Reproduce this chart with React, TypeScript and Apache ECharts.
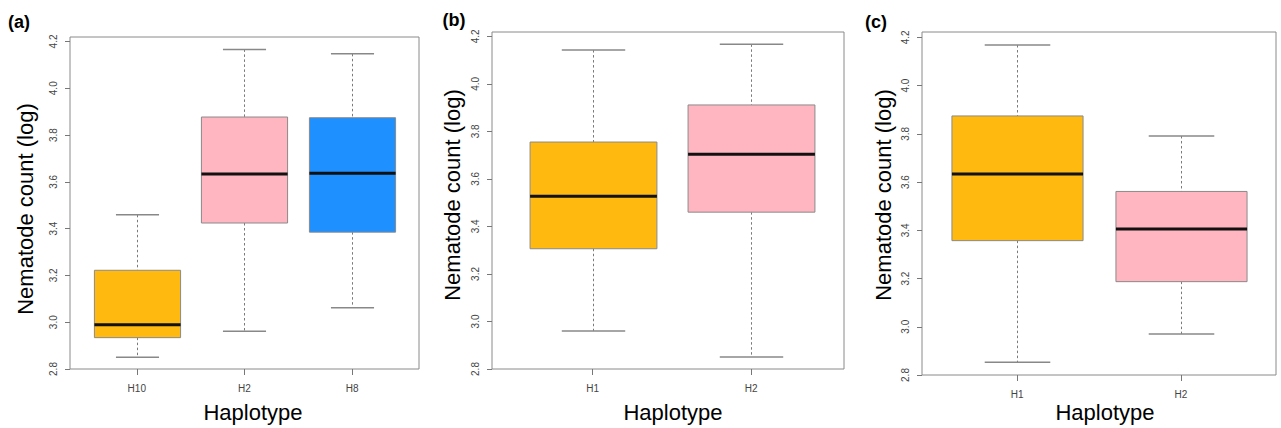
import React, { useEffect, useRef } from "react";
import * as echarts from "echarts";

// ---- Data ----
const yTicks = [2.8, 3.0, 3.2, 3.4, 3.6, 3.8, 4.0, 4.2];

const catsA = ["H10", "H2", "H8"];
// [lower whisker, Q1, median, Q3, upper whisker]
const valuesA = [
  [2.85, 2.934, 2.989, 3.222, 3.459],
  [2.961, 3.424, 3.633, 3.877, 4.166],
  [3.062, 3.385, 3.637, 3.874, 4.147],
];

const catsB = ["H1", "H2"];
const valuesB = [
  [2.96, 3.306, 3.527, 3.755, 4.142],
  [2.85, 3.46, 3.704, 3.911, 4.166],
];

const catsC = ["H1", "H2"];
const valuesC = [
  [2.853, 3.357, 3.633, 3.874, 4.168],
  [2.97, 3.187, 3.405, 3.561, 3.791],
];

const panelLabels = ["(a)", "(b)", "(c)"];
const yTitle = "Nematode count (log)";
const xTitle = "Haplotype";

// ---- Styles / layout ----
const ORANGE = "#FFB90F";
const PINK = "#FFB6C1";
const BLUE = "#1E90FF";
const colorsA = [ORANGE, PINK, BLUE];
const colorsB = [ORANGE, PINK];
const colorsC = [ORANGE, PINK];

const FONT = "'Liberation Sans', Arial, sans-serif";

const panels = [
  {
    cats: catsA, values: valuesA, colors: colorsA,
    left: 70, top: 37, width: 349, height: 332, xMin: 0.38, xMax: 3.62, yMax: 4.219,
    label: { x: 19, y: 22 }, yt: { x: 25, y: 209 }, xt: { x: 253, y: 412 },
  },
  {
    cats: catsB, values: valuesB, colors: colorsB,
    left: 492, top: 32, width: 352, height: 337, xMin: 0.365, xMax: 2.585, yMax: 4.218,
    label: { x: 454, y: 20 }, yt: { x: 452, y: 195 }, xt: { x: 673, y: 412 },
  },
  {
    cats: catsC, values: valuesC, colors: colorsC,
    left: 922, top: 32, width: 354, height: 343, xMin: 0.42, xMax: 2.58, yMax: 4.222,
    label: { x: 876, y: 22 }, yt: { x: 883, y: 195 }, xt: { x: 1105, y: 412 },
  },
];

function makeRenderItem(colors: string[]) {
  return (params: any, api: any) => {
    const x = api.value(0);
    const lo = api.value(1);
    const q1 = api.value(2);
    const med = api.value(3);
    const q3 = api.value(4);
    const hi = api.value(5);
    const halfBox = api.size([0.4, 0])[0];
    const halfCap = api.size([0.2, 0])[0];
    const cx = Math.round(api.coord([x, lo])[0]) + 0.5;
    const yLo = api.coord([x, lo])[1];
    const yQ1 = api.coord([x, q1])[1];
    const yMed = api.coord([x, med])[1];
    const yQ3 = api.coord([x, q3])[1];
    const yHi = api.coord([x, hi])[1];
    const gray = "#7a7a7a";
    return {
      type: "group",
      children: [
        { type: "line", shape: { x1: cx, y1: yHi, x2: cx, y2: yQ3 }, style: { stroke: gray, lineWidth: 1, lineDash: [2.5, 2.5] } },
        { type: "line", shape: { x1: cx, y1: yQ1, x2: cx, y2: yLo }, style: { stroke: gray, lineWidth: 1, lineDash: [2.5, 2.5] } },
        { type: "line", shape: { x1: cx - halfCap, y1: yHi, x2: cx + halfCap, y2: yHi }, style: { stroke: "#888", lineWidth: 1.5 } },
        { type: "line", shape: { x1: cx - halfCap, y1: yLo, x2: cx + halfCap, y2: yLo }, style: { stroke: "#888", lineWidth: 1.5 } },
        {
          type: "rect",
          shape: { x: cx - halfBox, y: yQ3, width: 2 * halfBox, height: yQ1 - yQ3 },
          style: { fill: colors[params.dataIndex], stroke: "#8a8a8a", lineWidth: 1 },
        },
        { type: "line", shape: { x1: cx - halfBox, y1: yMed, x2: cx + halfBox, y2: yMed }, style: { stroke: "#111", lineWidth: 3 } },
      ],
    };
  };
}

export default function App() {
  const ref = useRef<HTMLDivElement>(null);
  useEffect(() => {
    if (!ref.current) return;
    const chart = echarts.init(ref.current, null, { renderer: "svg" });
    const grid: any[] = [];
    const xAxis: any[] = [];
    const yAxis: any[] = [];
    const series: any[] = [];
    const graphic: any[] = [];
    panels.forEach((p, i) => {
      grid.push({
        left: p.left, top: p.top, width: p.width, height: p.height,
        show: true, borderColor: "#8a8a8a", borderWidth: 1, backgroundColor: "transparent",
      });
      const ticks = p.cats.map((_, k) => k + 1);
      xAxis.push({
        gridIndex: i, type: "value", min: p.xMin, max: p.xMax,
        axisLine: { show: false }, splitLine: { show: false },
        axisTick: { show: true, customValues: ticks, length: 6, lineStyle: { color: "#777" } },
        axisLabel: {
          customValues: ticks, formatter: (v: number) => p.cats[Math.round(v) - 1] ?? "",
          fontSize: 10, color: "#444", margin: 14, fontFamily: FONT,
        },
      });
      yAxis.push({
        gridIndex: i, type: "value", min: 2.8, max: p.yMax,
        axisLine: { show: false }, splitLine: { show: false },
        axisTick: { show: true, customValues: yTicks, length: 5, lineStyle: { color: "#777" } },
        axisLabel: {
          customValues: yTicks, formatter: (v: number) => v.toFixed(1), rotate: 90,
          fontSize: 10, color: "#444", margin: 12, fontFamily: FONT,
        },
      });
      series.push({
        type: "custom", xAxisIndex: i, yAxisIndex: i,
        renderItem: makeRenderItem(p.colors),
        encode: { x: 0, y: [1, 2, 3, 4, 5] },
        data: p.values.map((v, k) => [k + 1, ...v]),
        silent: true,
      });
      graphic.push(
        {
          type: "text", x: p.label.x, y: p.label.y,
          style: { text: panelLabels[i], fontSize: 18, fontWeight: "bold", fontFamily: FONT, fill: "#000", align: "center", verticalAlign: "middle" },
        },
        {
          type: "text", x: p.yt.x, y: p.yt.y, rotation: Math.PI / 2,
          style: { text: yTitle, fontSize: 22, fontFamily: FONT, fill: "#000", align: "center", verticalAlign: "middle" },
        },
        {
          type: "text", x: p.xt.x, y: p.xt.y,
          style: { text: xTitle, fontSize: 22, fontFamily: FONT, fill: "#000", align: "center", verticalAlign: "middle" },
        }
      );
    });
    chart.setOption({ animation: false, grid, xAxis, yAxis, series, graphic });
    return () => chart.dispose();
  }, []);
  return (
    <div
      ref={ref}
      style={{ position: "absolute", left: 0, top: 0, width: 1281, height: 428, background: "#fff" }}
    />
  );
}
